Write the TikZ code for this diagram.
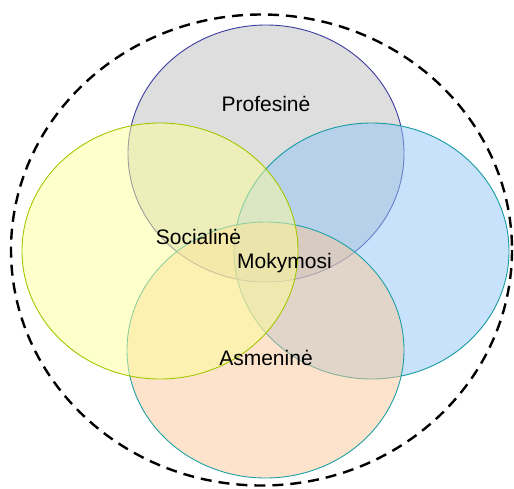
\documentclass[tikz,border=0pt]{standalone}
\usepackage{fontspec}
\setmainfont{Liberation Sans}
\begin{document}
\begin{tikzpicture}[x=1pt,y=-1pt,
  setshape/.style={line width=0.9pt, fill opacity=0.5},
  lbl/.style={font=\fontsize{21}{25}\selectfont, inner sep=0pt, anchor=base}]
\useasboundingbox (0,0) rectangle (514,488);
\definecolor{gfill}{RGB}{189,189,189}
\definecolor{gline}{RGB}{60,60,160}
\definecolor{yfill}{RGB}{255,255,153}
\definecolor{yline}{RGB}{160,200,0}
\definecolor{bfill}{RGB}{145,197,249}
\definecolor{bline}{RGB}{20,155,160}
\definecolor{pfill}{RGB}{251,199,151}
\definecolor{pline}{RGB}{30,160,165}
\coordinate (outer) at (261.5,250);
\coordinate (cg) at (266,153.5);
\coordinate (cb) at (371.5,251);
\coordinate (cp) at (265.5,350);
\coordinate (cy) at (160,251);
\draw[black, line width=2.4pt, dash pattern=on 11pt off 7pt] (outer) ellipse [x radius=250.5, y radius=235.5];
\draw[setshape, draw=gline, fill=gfill] (cg) ellipse [x radius=138, y radius=128.5];
\draw[setshape, draw=bline, fill=bfill] (cb) ellipse [x radius=137.5, y radius=128];
\draw[setshape, draw=pline, fill=pfill] (cp) ellipse [x radius=138.5, y radius=128];
\draw[setshape, draw=yline, fill=yfill] (cy) ellipse [x radius=138, y radius=128];
\node[lbl] (prof) at (266,111) {Profesinė};
\node[lbl] (soc) at (198.5,244) {Socialinė};
\node[lbl] (mok) at (284.5,268) {Mokymosi};
\node[lbl] (asm) at (266,365) {Asmeninė};
\end{tikzpicture}
\end{document}
